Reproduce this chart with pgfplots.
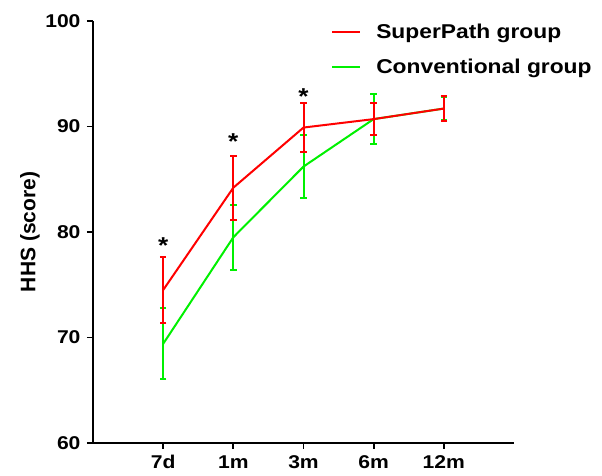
\documentclass[border=0pt]{standalone}
\usepackage{pgfplots}
\pgfplotsset{compat=1.18}
\usepackage{fontspec}
\setmainfont{Liberation Sans}[FakeStretch=1.14]
\newfontfamily\ylfont{Liberation Sans}
\definecolor{myred}{RGB}{255,0,0}
\definecolor{mygreen}{RGB}{0,240,0}
\begin{document}
\begin{tikzpicture}
\useasboundingbox (-93pt,-33pt) rectangle (509pt,443pt);
\begin{axis}[
  at={(0pt,0pt)}, anchor=south west,
  scale only axis, width=421pt, height=422pt,
  xmin=-1, xmax=5, ymin=60, ymax=100,
  axis lines=left,
  axis line style={line width=1.8pt, -, black},
  xtick={0,1,2,3,4}, xticklabels={7d,1m,3m,6m,12m},
  ytick={60,70,80,90,100},
  tick align=outside, major tick length=6pt,
  tick style={line width=1.8pt, black},
  ticklabel style={font=\fontsize{18.5}{20}\selectfont\bfseries},
  xticklabel style={yshift=-3pt},
  yticklabel style={xshift=-3pt},
  /pgf/number format/assume math mode=true,
  ylabel={HHS (score)},
  ylabel style={font=\ylfont\fontsize{21}{23}\selectfont\bfseries, at={(axis description cs:-0.15,0.5)}, anchor=center},
  clip=false,
  legend style={at={(rel axis cs:0.5655,0.998)}, anchor=north west, draw=none, fill=none,
    font=\fontsize{20}{22}\selectfont\bfseries, row sep=15pt, inner sep=0pt},
  legend cell align=left,
  reverse legend,
  legend image code/.code={\draw[#1, line width=2pt] (0pt,0pt) -- (28pt,0pt); \path[draw=none, fill=none] (28pt,0pt) -- (42pt,0pt);},
]
\addplot[mygreen, line width=2pt, mark=none,
  error bars/.cd, y dir=both, y explicit,
  error bar style={line width=2pt, mygreen},
  error mark options={rotate=90, mark size=3.3pt, line width=2pt, mygreen}]
  table[x=x, y=y, y error=e] {
x y e
0 69.4 3.35
1 79.5 3.1
2 86.2 3.0
3 90.7 2.4
4 91.7 1.05
};
\addlegendentry{Conventional group}
\addplot[myred, line width=2pt, mark=none,
  error bars/.cd, y dir=both, y explicit,
  error bar style={line width=2pt, myred},
  error mark options={rotate=90, mark size=3.3pt, line width=2pt, myred}]
  table[x=x, y=y, y error=e] {
x y e
0 74.5 3.1
1 84.2 3.05
2 89.9 2.3
3 90.7 1.55
4 91.7 1.2
};
\addlegendentry{SuperPath group}
\node[font=\fontsize{23}{23}\selectfont\bfseries, anchor=base] at (axis cs:0,78.0) {*};
\node[font=\fontsize{23}{23}\selectfont\bfseries, anchor=base] at (axis cs:1,87.8) {*};
\node[font=\fontsize{23}{23}\selectfont\bfseries, anchor=base] at (axis cs:2,92.1) {*};
\end{axis}
\end{tikzpicture}
\end{document}
